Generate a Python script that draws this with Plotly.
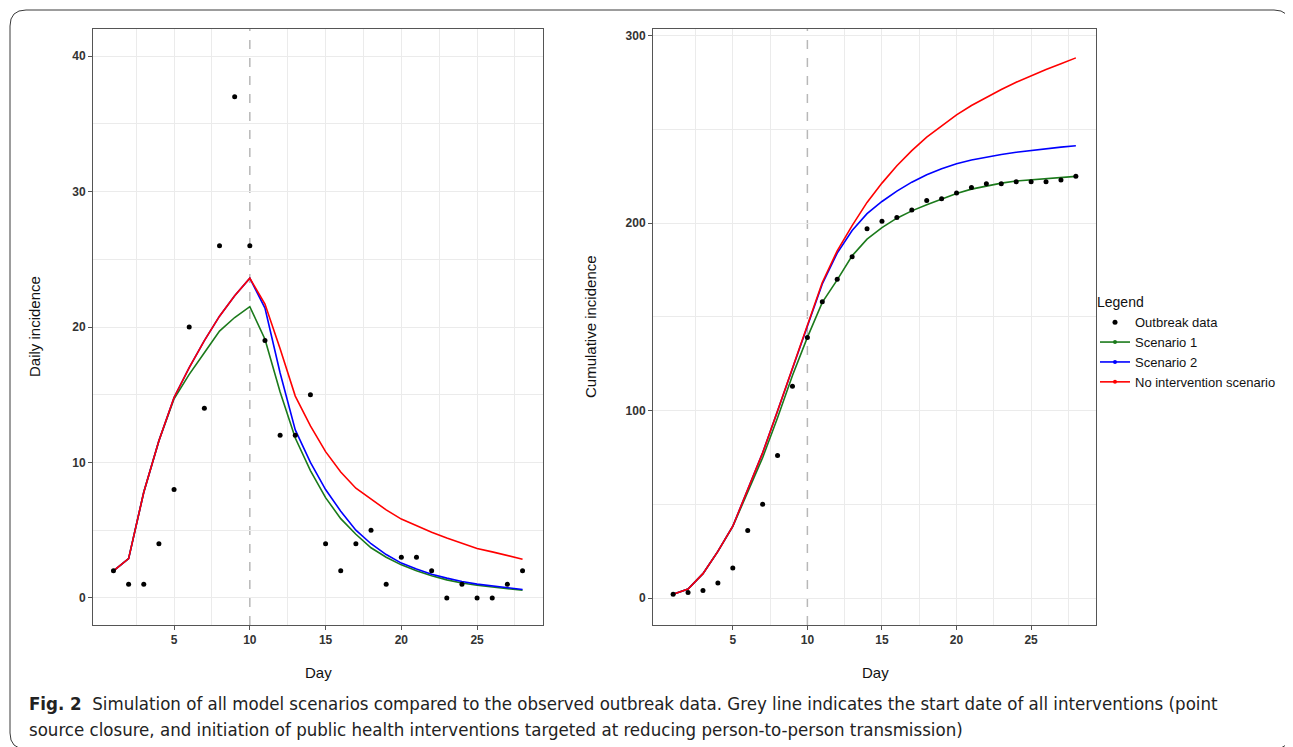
"""
Fig. 2 - simulácia scenárov modelu vs. pozorované dáta ohniska.
"""
import plotly.graph_objects as go

# stránka má 8px okraj body, figúru preto zmenšíme a súradnice posunieme
OFF = 8
W, H = 1293 - OFF, 747 - OFF

# ─── Dáta ─────────────────────────────────────────────────────────────────────
days = list(range(1, 29))
INTERVENTION_DAY = 10

outbreak_daily = [2, 1, 1, 4, 8, 20, 14, 26, 37, 26, 19, 12, 12, 15,
                  4, 2, 4, 5, 1, 3, 3, 2, 0, 1, 0, 0, 1, 2]
outbreak_cum = [2, 3, 4, 8, 16, 36, 50, 76, 113, 139, 158, 170, 182, 197,
                201, 203, 207, 212, 213, 216, 219, 221, 221, 222, 222, 222, 223, 225]

scen1_daily = [2.0, 2.9, 7.8, 11.6, 14.7, 16.5, 18.1, 19.7, 20.7, 21.5, 19.1, 15.2, 11.8, 9.4,
               7.4, 5.85, 4.7, 3.7, 3.0, 2.44, 2.0, 1.63, 1.33, 1.1, 0.93, 0.8, 0.68, 0.56]
scen2_daily = [2.0, 2.9, 7.8, 11.6, 14.8, 17.0, 19.0, 20.8, 22.3, 23.6, 21.4, 16.6, 12.4, 10.0,
               8.0, 6.4, 5.0, 4.0, 3.2, 2.57, 2.13, 1.75, 1.46, 1.21, 1.02, 0.87, 0.74, 0.62]
noint_daily = [2.0, 2.9, 7.8, 11.6, 14.8, 17.0, 19.0, 20.8, 22.3, 23.6, 21.7, 18.4, 14.9, 12.7,
               10.8, 9.3, 8.1, 7.3, 6.5, 5.82, 5.33, 4.85, 4.42, 4.02, 3.65, 3.4, 3.11, 2.86]

scen1_cum = [2, 4.8, 13.0, 24.9, 38.2, 56.5, 74.8, 96.1, 118.7, 139.0, 157.7, 169.7, 182.5, 191.4,
             197.6, 202.6, 206.5, 209.7, 212.8, 215.8, 218.1, 219.9, 221.3, 222.4, 223.1, 223.8, 224.4, 224.9]
scen2_cum = [2, 4.8, 13.0, 24.9, 38.3, 57.5, 77.4, 99.7, 122.8, 145.0, 167.5, 184.0, 196.0, 205.0,
             211.5, 217.0, 221.8, 225.8, 229.0, 231.6, 233.6, 235.2, 236.6, 237.8, 238.8, 239.7, 240.5, 241.2]
noint_cum = [2, 4.8, 13.0, 24.9, 38.3, 57.5, 77.4, 99.7, 122.8, 145.0, 168.3, 185.2, 198.6, 211.0,
             221.3, 230.6, 238.6, 245.8, 251.9, 257.7, 262.7, 267.1, 271.2, 275.1, 278.7, 281.9, 284.9, 288.1]

x_ticks = [5, 10, 15, 20, 25]
# mriežka osi x bez čiary na dni intervencie (tam je šedá prerušovaná)
x_grid = [2.5, 5, 7.5, 12.5, 15, 17.5, 20, 22.5, 25, 27.5]
daily_ticks = [0, 10, 20, 30, 40]
daily_minor = [5, 15, 25, 35]
cum_ticks = [0, 100, 200, 300]
cum_minor = [50, 150, 250]

# ─── Farby / fonty ────────────────────────────────────────────────────────────
C_S1 = "#1b7a1b"
C_S2 = "#0000ff"
C_NI = "#ff0000"
C_GRID = "#ebebeb"
C_FRAME = "#555555"
FONT = "Liberation Sans, Arial, sans-serif"
CAP_FONT = "DejaVu Sans Condensed, Liberation Sans Narrow, sans-serif"


def px(x):
    """pixel v screenshote -> paper x"""
    return (x - OFF) / W


def py(y):
    """pixel v screenshote -> paper y"""
    return 1 - (y - OFF) / H


fig = go.Figure()

series = [
    (scen1_daily, scen1_cum, C_S1, "Scenario 1", 2),
    (scen2_daily, scen2_cum, C_S2, "Scenario 2", 3),
    (noint_daily, noint_cum, C_NI, "No intervention scenario", 4),
]

# čiary modelov
for daily, cum, color, name, rank in series:
    fig.add_trace(go.Scatter(x=days, y=daily, mode="lines", line=dict(color=color, width=1.6),
                             showlegend=False, xaxis="x", yaxis="y", hoverinfo="skip"))
    fig.add_trace(go.Scatter(x=days, y=cum, mode="lines", line=dict(color=color, width=1.6),
                             showlegend=False, xaxis="x2", yaxis="y2", hoverinfo="skip"))

# body ohniska
fig.add_trace(go.Scatter(x=days, y=outbreak_daily, mode="markers", name="Outbreak data",
                         marker=dict(color="black", size=5), xaxis="x", yaxis="y",
                         legendrank=1))
fig.add_trace(go.Scatter(x=days, y=outbreak_cum, mode="markers", name="Outbreak data",
                         marker=dict(color="black", size=5), xaxis="x2", yaxis="y2",
                         showlegend=False))

# položky legendy (čiara + bod ako v ggplot)
for daily, cum, color, name, rank in series:
    fig.add_trace(go.Scatter(x=[None], y=[None], mode="lines+markers", name=name,
                             line=dict(color=color, width=1.6), marker=dict(color=color, size=4),
                             xaxis="x", yaxis="y", legendrank=rank))

# šedá čiara začiatku intervencií (pod dátami)
for xr, yr in [("x", "y domain"), ("x2", "y2 domain")]:
    fig.add_shape(type="line", xref=xr, yref=yr, x0=INTERVENTION_DAY, x1=INTERVENTION_DAY,
                  y0=0, y1=1, line=dict(color="#b8b8b8", width=1.5, dash="dash"), layer="below")

# rámik okolo celej figúry
x0, x1, y0, y1 = px(10), px(1290), py(10), py(749)
rx, ry = 16 / W, 16 / H
path = (f"M {x0 + rx},{y0} L {x1 - rx},{y0} Q {x1},{y0} {x1},{y0 - ry} "
        f"L {x1},{y1 + ry} Q {x1},{y1} {x1 - rx},{y1} L {x0 + rx},{y1} "
        f"Q {x0},{y1} {x0},{y1 + ry} L {x0},{y0 - ry} Q {x0},{y0} {x0 + rx},{y0} Z")
fig.add_shape(type="path", xref="paper", yref="paper", path=path,
              line=dict(color="#3a3a3a", width=1))

axis_common = dict(
    showline=True, mirror=True, linecolor=C_FRAME, linewidth=1,
    ticks="outside", ticklen=4, tickcolor=C_FRAME, tickwidth=1,
    gridcolor=C_GRID, gridwidth=1, zeroline=False,
    tickfont=dict(family=FONT, size=12, color="#333333", weight="bold"),
    tickmode="array",
)
x_common = dict(range=[-0.35, 29.35], tickvals=x_ticks, showgrid=False,
                minor=dict(tickvals=x_grid, showgrid=True, gridcolor=C_GRID, gridwidth=0.8))

fig.update_layout(
    width=W, height=H,
    margin=dict(l=0, r=0, t=0, b=0),
    paper_bgcolor="white", plot_bgcolor="white",
    font=dict(family=FONT, color="#111111"),
    xaxis=dict(domain=[px(93), px(543)], anchor="y", **x_common, **axis_common),
    yaxis=dict(domain=[py(625), py(29)], range=[-2, 42], tickvals=daily_ticks, showgrid=True,
               minor=dict(tickvals=daily_minor, showgrid=True, gridcolor=C_GRID, gridwidth=0.6),
               anchor="x", **axis_common),
    xaxis2=dict(domain=[px(653), px(1096)], anchor="y2", **x_common, **axis_common),
    yaxis2=dict(domain=[py(625), py(29)], range=[-14.4, 303.5], tickvals=cum_ticks, showgrid=True,
                minor=dict(tickvals=cum_minor, showgrid=True, gridcolor=C_GRID, gridwidth=0.6),
                anchor="x2", **axis_common),
    legend=dict(x=px(1095), y=py(289), xanchor="left", yanchor="top",
                title=dict(text="Legend", font=dict(size=14, family=FONT)),
                font=dict(size=13, family=FONT, color="#111111"),
                itemwidth=30, bgcolor="rgba(0,0,0,0)", tracegroupgap=0),
    showlegend=True,
)

# názvy osí
annotations = [
    dict(text="Daily incidence", x=px(34), y=py(327), textangle=-90, font=dict(size=15)),
    dict(text="Cumulative incidence", x=px(590), y=py(327), textangle=-90, font=dict(size=15)),
    dict(text="Day", x=px(318), y=py(672), font=dict(size=15)),
    dict(text="Day", x=px(875), y=py(672), font=dict(size=15)),
]
for a in annotations:
    fig.add_annotation(xref="paper", yref="paper", showarrow=False,
                       xanchor="center", yanchor="middle", **a)

# popis obrázka
caption = [
    ("<b>Fig. 2</b>  Simulation of all model scenarios compared to the observed outbreak data. "
     "Grey line indicates the start date of all interventions (point", 703),
    ("source closure, and initiation of public health interventions targeted at reducing "
     "person-to-person transmission)", 729),
]
for txt, yy in caption:
    fig.add_annotation(xref="paper", yref="paper", x=px(27), y=py(yy), text=txt,
                       showarrow=False, xanchor="left", yanchor="middle",
                       font=dict(family=CAP_FONT, size=18.5, color="#222222"))

fig.write_html("out.html")
